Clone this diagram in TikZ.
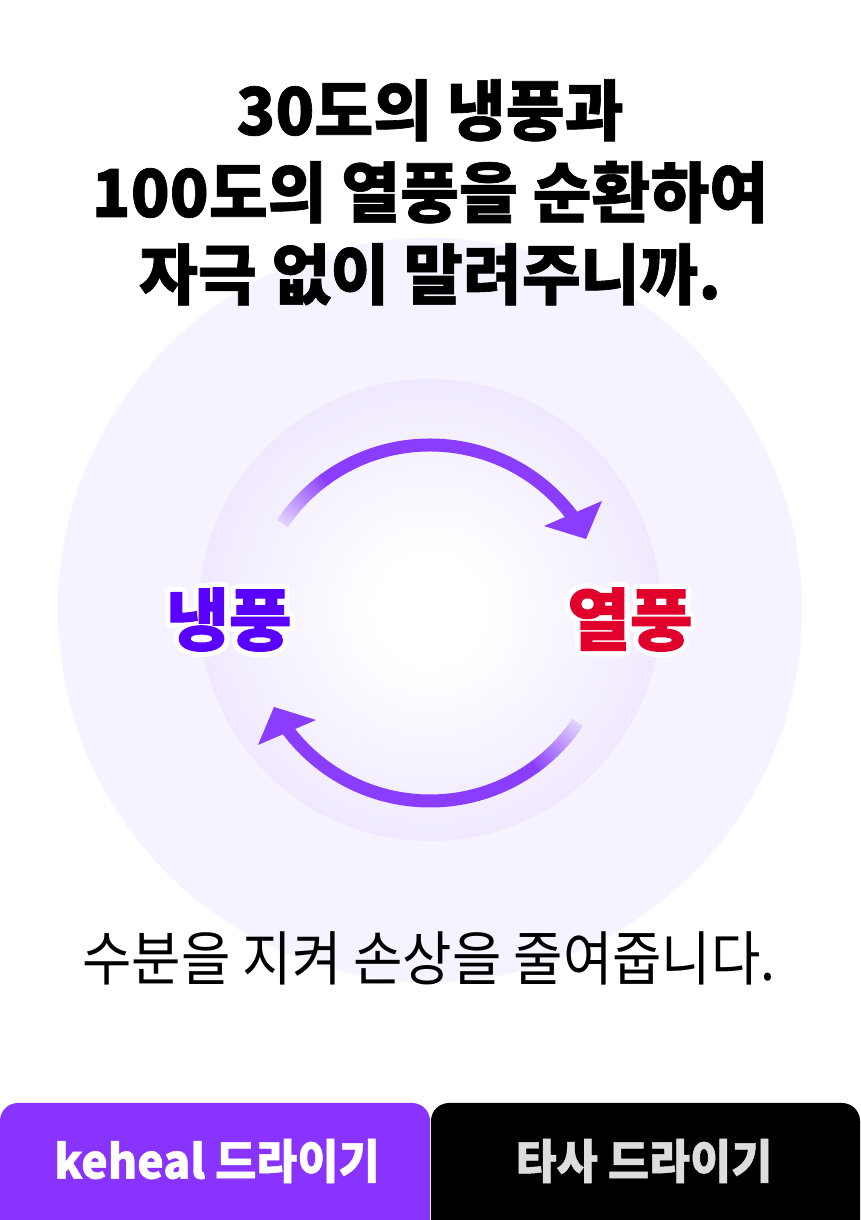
\documentclass[tikz,border=0pt]{standalone}
\usepackage{fontspec}
\usepackage[copies]{contour}
\usetikzlibrary{calc}
\newfontfamily\kr{Noto Sans CJK KR}[BoldFeatures={FakeBold=1}]
\newfontfamily\krh{Noto Sans CJK KR}[BoldFeatures={FakeBold=1.5}]
\contourlength{5pt}
\contournumber{40}
\definecolor{arrowc}{HTML}{8A3CFF}
\definecolor{coolc}{HTML}{5A00FF}
\definecolor{hotc}{HTML}{E0002B}
\definecolor{tabpurple}{HTML}{8833FF}
\definecolor{tabgray}{HTML}{DDDDDD}
\definecolor{outerin}{HTML}{F6F2FF}
\definecolor{outerout}{HTML}{EAE1FD}
\definecolor{innermid}{HTML}{E6DAFD}
\definecolor{innerout}{HTML}{DDCCFC}
\definecolor{fadebg}{HTML}{E8DEFD}
\pgfdeclareradialshading{outerglow}{\pgfpoint{0bp}{0bp}}{color(0bp)=(outerin); color(30bp)=(outerin); color(50bp)=(outerout)}
\pgfdeclareradialshading{innerglow}{\pgfpoint{0bp}{0bp}}{color(0bp)=(white); color(6bp)=(white); color(38bp)=(innermid); color(50bp)=(innerout)}
\tikzset{
  titletxt/.style={font=\kr\bfseries\fontsize{66}{66}\selectfont, anchor=base, inner sep=0pt, text=black},
  subtxt/.style={font=\kr\fontsize{59}{59}\selectfont, anchor=base, inner sep=0pt, text=black},
  lbl/.style={font=\krh\bfseries\fontsize{68}{68}\selectfont, anchor=center, inner sep=0pt},
  tabtxt/.style={font=\kr\bfseries\fontsize{47}{47}\selectfont, anchor=center, inner sep=0pt},
  arrowline/.style={line width=13pt},
}
\newcommand{\cyclearrow}{%
  \foreach \i in {0,...,19}{%
    \pgfmathsetmacro\a{146-\i}%
    \pgfmathsetmacro\p{8+4.6*\i}%
    \draw[arrowline, color=arrowc!\p!fadebg] (C) ++(\a:178) arc[start angle=\a, end angle=\a-1.15, radius=178];
  }%
  \draw[arrowline, arrowc] (C) ++(126.5:178) arc[start angle=126.5, end angle=36.5, radius=178];
  \fill[arrowc] ($(C)+(156,84)$) -- ($(C)+(172,122)$) -- ($(C)+(114,97)$) -- cycle;
}
\begin{document}
\begin{tikzpicture}[x=1pt,y=1pt]
\useasboundingbox (0,0) rectangle (860,1220);
\fill[white] (0,0) rectangle (860,1220);
\coordinate (O) at (430,610);
\coordinate (C) at (430,597);
% glow circles
\shade[shading=outerglow] (O) circle[radius=372];
\shade[shading=innerglow] (O) circle[radius=231];
% title
\node[titletxt] (t1) at (430,1085) {\scalebox{0.97}[1]{30도의 냉풍과}};
\node[titletxt] (t2) at (430,1003) {\scalebox{0.97}[1]{100도의 열풍을 순환하여}};
\node[titletxt] (t3) at (430,921) {\scalebox{0.97}[1]{자극 없이 말려주니까.}};
% cycle arrows
\cyclearrow
\begin{scope}[rotate around={180:(C)}]
\cyclearrow
\end{scope}
% labels
\node[lbl, text=coolc] (cool) at (229,598) {\contour{white}{냉풍}};
\node[lbl, text=hotc] (hot) at (630,598) {\contour{white}{열풍}};
% subtitle
\node[subtxt] (sub) at (429,239) {\scalebox{0.91}[1]{수분을 지켜 손상을 줄여줍니다.}};
% tabs
\fill[tabpurple] (0,0) -- (0,99) arc[start angle=180, end angle=90, radius=18] -- (412,117) arc[start angle=90, end angle=0, radius=18] -- (430,0) -- cycle;
\fill[black] (431,0) -- (431,99) arc[start angle=180, end angle=90, radius=18] -- (842,117) arc[start angle=90, end angle=0, radius=18] -- (860,0) -- cycle;
\node[tabtxt, text=white] (tabA) at (217,59) {\scalebox{0.95}[1]{keheal 드라이기}};
\node[tabtxt, text=tabgray] (tabB) at (644,59) {\scalebox{0.95}[1]{타사 드라이기}};
\end{tikzpicture}
\end{document}
